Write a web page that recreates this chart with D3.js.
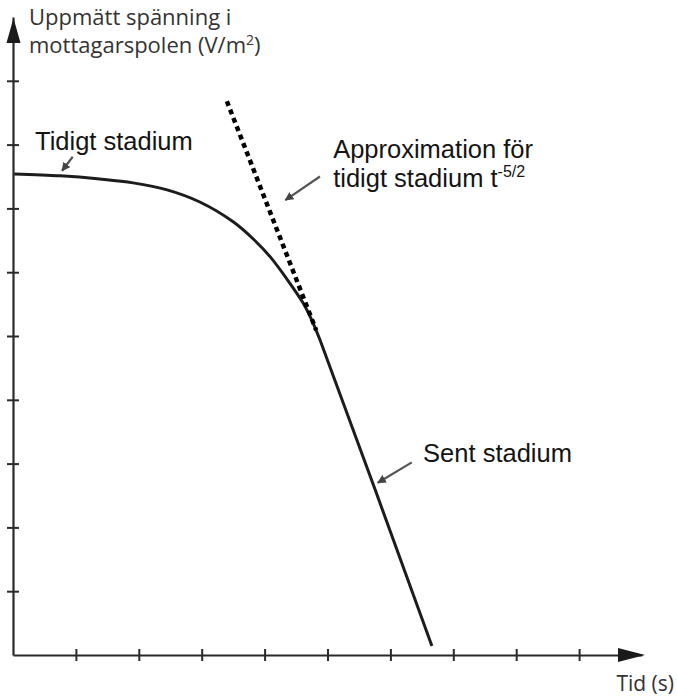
<!DOCTYPE html>
<html>
<head>
<meta charset="utf-8">
<script src="https://cdn.jsdelivr.net/npm/d3@7"></script>
<style>
  body { margin: 0; background: #fff; }
  svg { display: block; }
  .lbl { font-family: "Liberation Sans", Arial, sans-serif; font-size: 25.5px; fill: #141414; }
  .axlbl { font-family: "Open Sans", sans-serif; font-size: 22px; fill: #333; }
</style>
</head>
<body>
<svg id="chart"></svg>
<script>
// curve (axis tick units)
var curveX = [0.02, 0.75, 1.38, 1.91, 2.45, 2.97, 3.50, 3.82, 4.09, 4.40, 4.61, 4.75, 4.88, 6.66];
var curveY = [7.54, 7.51, 7.46, 7.40, 7.29, 7.10, 6.79, 6.52, 6.24, 5.83, 5.52, 5.25, 4.94, 0.14];

// early-stage approximation t^-5/2 (dotted)
var approxX = [3.40, 4.82];
var approxY = [8.68, 5.09];

var xTicks = [1, 2, 3, 4, 5, 6, 7, 8, 9];
var yTicks = [1, 2, 3, 4, 5, 6, 7, 8, 9];

var yLabel = ["Uppmätt spänning i", "mottagarspolen (V/m", "2", ")"];
var xLabel = "Tid (s)";
var earlyLabel = "Tidigt stadium";
var approxLabel = ["Approximation för", "tidigt stadium t", "-5/2"];
var lateLabel = "Sent stadium";

var width = 677, height = 696;

var svg = d3.select("#chart")
    .attr("width", width)
    .attr("height", height);

var x = d3.scaleLinear().domain([0, 10]).range([13, 642]);
var y = d3.scaleLinear().domain([0, 10]).range([655, 17]);

// x axis with ticks crossing the line
var gx = svg.append("g")
    .attr("transform", "translate(0," + y(0) + ")")
    .call(d3.axisBottom(x).tickValues(xTicks).tickSize(6).tickSizeOuter(0).tickFormat(""));
gx.select(".domain").attr("stroke", "#2a2a2a").attr("stroke-width", 2.2);
gx.selectAll(".tick line").attr("y1", -6).attr("y2", 6).attr("stroke", "#2a2a2a").attr("stroke-width", 2);

var gy = svg.append("g")
    .attr("transform", "translate(" + x(0) + ",0)")
    .call(d3.axisLeft(y).tickValues(yTicks).tickSize(6).tickSizeOuter(0).tickFormat(""));
gy.select(".domain").attr("stroke", "#2a2a2a").attr("stroke-width", 2.2);
gy.selectAll(".tick line").attr("x1", -6).attr("x2", 6).attr("stroke", "#2a2a2a").attr("stroke-width", 2);

// arrow heads on the axes
var xe = x(10) + 3, ye = y(10);
svg.append("path")
    .attr("d", "M" + (xe - 27) + "," + (y(0) - 7) + "L" + xe + "," + y(0) + "L" + (xe - 27) + "," + (y(0) + 7) + "Z")
    .attr("fill", "#1a1a1a");
svg.append("path")
    .attr("d", "M" + (x(0) - 6.5) + "," + (ye + 26) + "L" + (x(0) + 0.5) + "," + (ye + 1) + "L" + (x(0) + 7.5) + "," + (ye + 26) + "Z")
    .attr("fill", "#1a1a1a");

// main curve
var line = d3.line()
    .x(function(d, i) { return x(curveX[i]); })
    .y(function(d, i) { return y(curveY[i]); })
    .curve(d3.curveCatmullRom.alpha(0.5));

svg.append("path")
    .datum(curveX)
    .attr("d", line)
    .attr("fill", "none")
    .attr("stroke", "#1c1c1c")
    .attr("stroke-width", 3);

// dotted approximation
var aLine = d3.line()
    .x(function(d, i) { return x(approxX[i]); })
    .y(function(d, i) { return y(approxY[i]); });

svg.append("path")
    .datum(approxX)
    .attr("d", aLine)
    .attr("fill", "none")
    .attr("stroke", "#000")
    .attr("stroke-width", 4.5)
    .attr("stroke-dasharray", "5,4");

// annotation arrows
svg.append("defs").append("marker")
    .attr("id", "ah")
    .attr("viewBox", "0 0 10 10")
    .attr("refX", 9).attr("refY", 5)
    .attr("markerWidth", 4).attr("markerHeight", 4)
    .attr("orient", "auto")
    .append("path").attr("d", "M0,0L10,5L0,10Z").attr("fill", "#444");

var pointers = [
    [0.95, 7.81, 0.78, 7.59],
    [4.88, 7.50, 4.33, 7.13],
    [6.34, 3.02, 5.80, 2.70]
];
pointers.forEach(function(p) {
    svg.append("line")
        .attr("x1", x(p[0])).attr("y1", y(p[1]))
        .attr("x2", x(p[2])).attr("y2", y(p[3]))
        .attr("stroke", "#555")
        .attr("stroke-width", 2.2)
        .attr("marker-end", "url(#ah)");
});

// texts
svg.append("text").attr("class", "lbl")
    .attr("x", x(0.35)).attr("y", y(7.91))
    .text(earlyLabel);

svg.append("text").attr("class", "lbl")
    .attr("x", x(5.09)).attr("y", y(7.79))
    .text(approxLabel[0]);
var t2 = svg.append("text").attr("class", "lbl")
    .attr("x", x(5.09)).attr("y", y(7.34));
t2.append("tspan").text(approxLabel[1]);
t2.append("tspan").attr("dy", -10).style("font-size", "16px").text(approxLabel[2]);

svg.append("text").attr("class", "lbl")
    .attr("x", x(6.52)).attr("y", y(3.02))
    .text(lateLabel);

svg.append("text").attr("class", "axlbl")
    .attr("x", 29).attr("y", 25)
    .text(yLabel[0]);
var t3 = svg.append("text").attr("class", "axlbl")
    .attr("x", 29).attr("y", 53);
t3.append("tspan").text(yLabel[1]);
t3.append("tspan").attr("dy", -8).style("font-size", "14px").text(yLabel[2]);
t3.append("tspan").attr("dy", 8).text(yLabel[3]);

svg.append("text").attr("class", "axlbl")
    .attr("x", 674).attr("y", 691)
    .attr("text-anchor", "end")
    .style("font-size", "21px")
    .text(xLabel);
</script>
</body>
</html>
